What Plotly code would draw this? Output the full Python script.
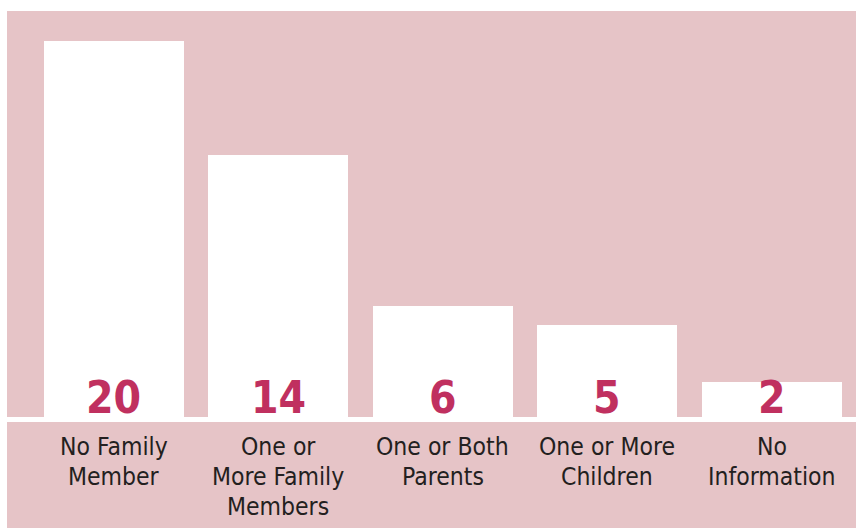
import plotly.graph_objects as go

categories = ["No Family<br>Member", "One or<br>More Family<br>Members", "One or Both<br>Parents",
              "One or More<br>Children", "No<br>Information"]
values = [20, 14, 6, 5, 2]

PINK = "#e6c4c7"
NUM_COLOR = "#c0305f"
LABEL_COLOR = "#231f20"
NARROW = "Liberation Sans Narrow, Arial Narrow, DejaVu Sans Condensed, sans-serif"

fig = go.Figure()
fig.add_trace(go.Bar(
    x=categories, y=values, width=0.851,
    marker=dict(color="white", line=dict(width=0)),
    hoverinfo="skip",
))

annotations = []
for cat, v in zip(categories, values):
    annotations.append(dict(
        x=cat, y=0, xref="x", yref="y", text=f"<b>{v}</b>", showarrow=False,
        yanchor="bottom", yshift=-5,
        font=dict(family=NARROW, size=44, color=NUM_COLOR),
    ))
    for i, line in enumerate(cat.split("<br>")):
        annotations.append(dict(
            x=cat, y=0, xref="x", yref="y", text=line, showarrow=False,
            yanchor="top", yshift=-10 - 30 * i,
            font=dict(family=NARROW, size=24.5, color=LABEL_COLOR),
        ))

fig.update_layout(
    width=856, height=528,
    margin=dict(l=7, r=0, t=11, b=0),
    paper_bgcolor="white", plot_bgcolor=PINK,
    showlegend=False, bargap=0,
    xaxis=dict(range=[-0.65, 4.511], showticklabels=False, showgrid=False,
               zeroline=False, showline=False, fixedrange=True),
    yaxis=dict(range=[-5.733, 21.585], showticklabels=False, showgrid=False,
               zeroline=True, zerolinecolor="white", zerolinewidth=5,
               showline=False, fixedrange=True),
    annotations=annotations,
)

fig.write_html("out.html", config={"displayModeBar": False})
